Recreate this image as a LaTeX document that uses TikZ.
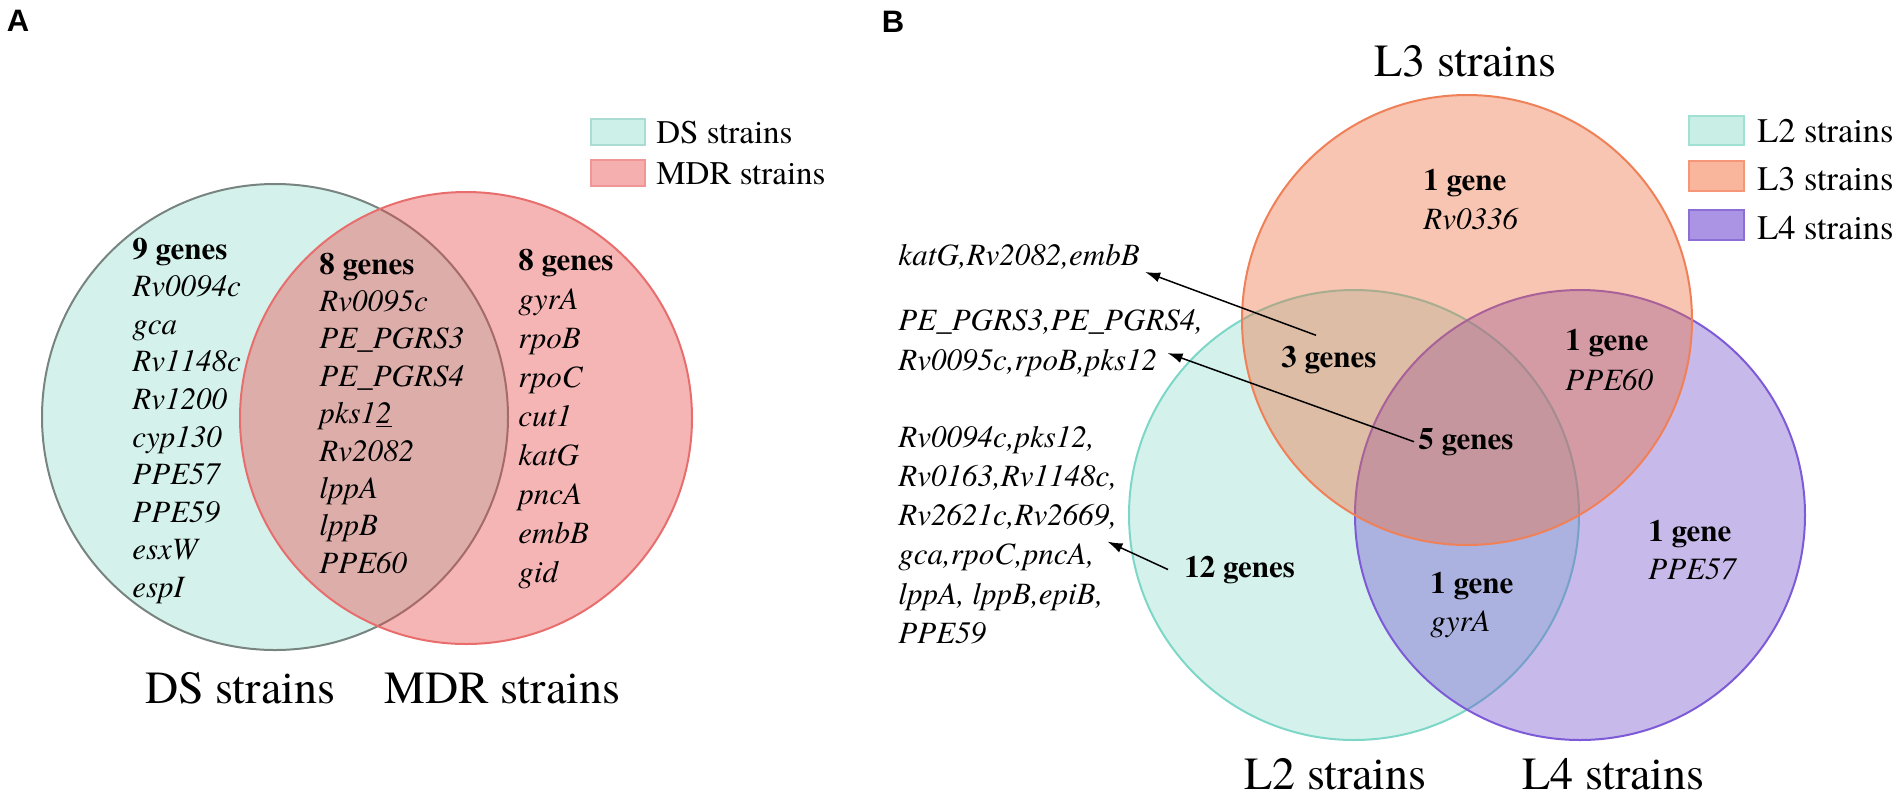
\documentclass[tikz,border=0pt]{standalone}
\usepackage{fontspec}
\setmainfont{texgyretermes}[Extension=.otf, UprightFont=*-regular, BoldFont=*-bold, ItalicFont=*-italic, BoldItalicFont=*-bolditalic]
\newfontfamily\labfont{Liberation Sans}[BoldFont={Liberation Sans Bold}]
\usetikzlibrary{arrows.meta}
\definecolor{tealfill}{RGB}{212,242,235}
\definecolor{dsborder}{RGB}{120,132,128}
\definecolor{ltwoborder}{RGB}{125,215,200}
\definecolor{mdrred}{RGB}{232,70,70}
\definecolor{mdrborder}{RGB}{232,110,110}
\definecolor{lthree}{RGB}{235,110,60}
\definecolor{lthreeborder}{RGB}{240,128,88}
\definecolor{lfour}{RGB}{108,74,205}
\definecolor{lfourborder}{RGB}{125,90,215}
\definecolor{legds}{RGB}{205,240,232}
\definecolor{legdsb}{RGB}{170,220,210}
\definecolor{legmdr}{RGB}{245,175,175}
\definecolor{legmdrb}{RGB}{240,150,150}
\definecolor{legltwo}{RGB}{200,238,230}
\definecolor{legltwob}{RGB}{160,225,212}
\definecolor{leglthree}{RGB}{250,182,156}
\definecolor{leglthreeb}{RGB}{245,150,120}
\definecolor{leglfour}{RGB}{172,148,228}
\definecolor{leglfourb}{RGB}{140,110,215}
\tikzset{
  gt/.style={anchor=base west, inner sep=0pt, font=\fontsize{15.5}{18}\selectfont\itshape},
  gb/.style={anchor=base west, inner sep=0pt, font=\fontsize{15.5}{18}\selectfont\bfseries},
  ttl/.style={anchor=base west, inner sep=0pt, font=\fontsize{23}{27}\selectfont},
  lega/.style={anchor=base west, inner sep=0pt, font=\fontsize{16.5}{20}\selectfont},
  legb/.style={anchor=base west, inner sep=0pt, font=\fontsize{17.2}{20}\selectfont},
  panel/.style={anchor=center, inner sep=0pt, font=\labfont\bfseries\fontsize{15.5}{18}\selectfont},
  arr/.style={draw=black, line width=0.75pt, -{Latex[length=7.5pt,width=5pt]}},
  circ/.style={line width=1pt}
}
\begin{document}
\begin{tikzpicture}[x=0.5pt,y=-0.5pt]
\useasboundingbox (0,0) rectangle (1902,799);
\fill[white] (0,0) rectangle (1902,799);

% ---------------- Panel A ----------------
\node[panel] (pA) at (18,21) {A};
\filldraw[circ, fill=tealfill, draw=dsborder] (275,417) circle[radius=116.5pt];
\filldraw[circ, fill=mdrred, fill opacity=0.4, draw=mdrborder] (466,418) circle[radius=113pt];

% legend A
\filldraw[fill=legds, draw=legdsb, line width=0.8pt] (591,119) rectangle (645,145);
\filldraw[fill=legmdr, draw=legmdrb, line width=0.8pt] (591,160) rectangle (645,186);
\node[lega] (lgds) at (656,143) {DS strains};
\node[lega] (lgmdr) at (656,184) {MDR strains};

% left column
\node[gb] (a0) at (132,259) {9 genes};
\foreach \t [count=\i] in {Rv0094c,gca,Rv1148c,Rv1200,cyp130,PPE57,PPE59,esxW,espI}
  \node[gt] (a\i) at (132,{259+37.6*\i}) {\t};
% middle column
\node[gb] (m0) at (319,274) {8 genes};
\foreach \t [count=\i] in {Rv0095c,PE\_PGRS3,PE\_PGRS4,pks1\underline{2},Rv2082,lppA,lppB,PPE60}
  \node[gt] (m\i) at (319,{274+37.4*\i}) {\t};
% right column
\node[gb] (r0) at (518,270) {8 genes};
\foreach \t [count=\i] in {gyrA,rpoB,rpoC,cut1,katG,pncA,embB,gid}
  \node[gt] (r\i) at (518,{270+39*\i}) {\t};

\node[ttl] (tds) at (145,703) {DS strains};
\node[ttl] (tmdr) at (384,703) {MDR strains};

% ---------------- Panel B ----------------
\node[panel] (pB) at (893,22) {B};
\filldraw[circ, fill=tealfill, draw=ltwoborder] (1354,515) circle[radius=112.5pt];
\filldraw[circ, fill=lfour, fill opacity=0.38, draw=lfourborder] (1580,515) circle[radius=112.5pt];
\filldraw[circ, fill=lthree, fill opacity=0.4, draw=lthreeborder] (1467,320) circle[radius=112.5pt];

% legend B
\filldraw[fill=legltwo, draw=legltwob, line width=0.8pt] (1689,116) rectangle (1744,145);
\filldraw[fill=leglthree, draw=leglthreeb, line width=0.8pt] (1689,161) rectangle (1744,191);
\filldraw[fill=leglfour, draw=leglfourb, line width=0.8pt] (1689,210) rectangle (1744,240);
\node[legb] (lgl2) at (1757,142) {L2 strains};
\node[legb] (lgl3) at (1757,190) {L3 strains};
\node[legb] (lgl4) at (1757,239) {L4 strains};

\node[ttl] (tl3) at (1374,76) {L3 strains};
\node[ttl] (tl2) at (1244,789) {L2 strains};
\node[ttl] (tl4) at (1522,789) {L4 strains};

% region labels
\node[gb] (g3a) at (1423,190) {1 gene};
\node[gt] (g3b) at (1423,229) {Rv0336};
\node[gb] (g23) at (1281,367) {3 genes};
\node[gb] (g34a) at (1565,350) {1 gene};
\node[gt] (g34b) at (1565,390) {PPE60};
\node[gb] (g234) at (1418,449) {5 genes};
\node[gb] (g4a) at (1648,541) {1 gene};
\node[gt] (g4b) at (1648,579) {PPE57};
\node[gb] (g24a) at (1430,593) {1 gene};
\node[gt] (g24b) at (1430,631) {gyrA};
\node[gb] (g2) at (1184,577) {12 genes};

% gene lists
\node[gt] (lkat) at (898,265) {katG,Rv2082,embB};
\node[gt] (lpe1) at (898,330) {PE\_PGRS3,PE\_PGRS4,};
\node[gt] (lpe2) at (898,370) {Rv0095c,rpoB,pks12};
\foreach \t [count=\i from 0] in {{Rv0094c,pks12,},{Rv0163,Rv1148c,},{Rv2621c,Rv2669,},{gca,rpoC,pncA,},{lppA, lppB,epiB,},{PPE59}}
  \node[gt] (ll\i) at (898,{447+39.3*\i}) {\t};

% arrows
\draw[arr] ([shift={(35,-10)}]g23.north west) -- ([shift={(5,7)}]lkat.base east);
\draw[arr] ([xshift=-2]g234.west) -- ([shift={(10,-17)}]lpe2.base east);
\draw[arr] ([xshift=-8]g2.west) -- ([shift={(-10,16)}]ll2.base east);
\end{tikzpicture}
\end{document}
